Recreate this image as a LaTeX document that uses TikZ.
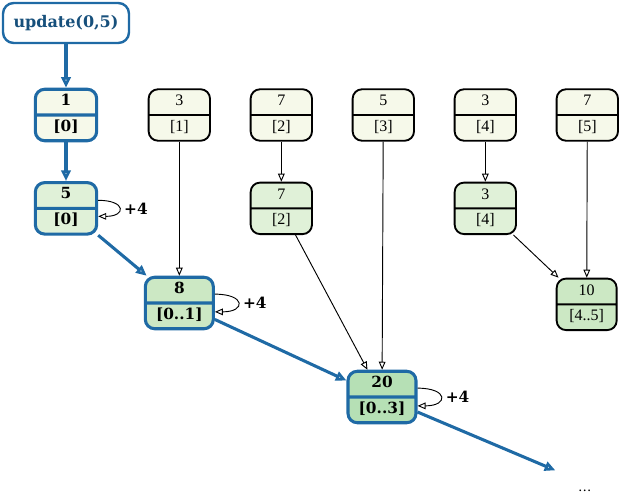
\documentclass[tikz,border=0pt]{standalone}
\usepackage{fontspec}
\setmainfont{DejaVu Serif}
\newfontfamily\plainfont{Liberation Serif}
\usetikzlibrary{shapes.multipart, positioning, arrows.meta}
\definecolor{segblue}{RGB}{31,106,165}
\definecolor{leafbg}{RGB}{246,249,234}
\definecolor{midbg}{RGB}{224,241,216}
\definecolor{sumbg}{RGB}{204,232,196}
\definecolor{rootbg}{RGB}{182,224,181}
\tikzset{
  seg/.style={rectangle split, rectangle split parts=2, rounded corners=7pt, draw,
    line width=1.4pt, minimum width=46pt, inner ysep=2.2pt,
    font=\plainfont\fontsize{12}{13.5}\selectfont},
  hot/.style={seg, draw=segblue, line width=2.3pt, inner ysep=2pt,
    font=\bfseries\fontsize{11.5}{13}\selectfont},
  updbox/.style={draw=segblue, line width=1.8pt, rounded corners=8pt, fill=white,
    text=segblue!75!black, minimum width=94.5pt, minimum height=30pt,
    font=\bfseries\fontsize{12}{14}\selectfont},
  coldedge/.style={->, >={Triangle[open,length=6pt,width=5pt]}, line width=.7pt},
  hotedge/.style={->, >={Triangle[open,length=8pt,width=7pt]}, draw=segblue, line width=2.3pt},
}
\newcommand{\parts}[2]{\strut#1\nodepart{two}\strut#2}

\begin{document}
\begin{tikzpicture}[x=1pt,y=1pt,on grid,node distance=70pt and 76.5pt]
	\useasboundingbox (-49.5,17.25) rectangle (416.25,-355.5);
	\node[updbox] (upd) at (0,0) {update(0,5)};
	\node[hot, fill=leafbg] (n1) [below=69pt of upd] {\parts{1}{[0]}};
	\node[hot, fill=midbg] (n5) [below=of n1] {\parts{5}{[0]}};
	\node[seg, fill=leafbg] (a1) [right=85pt of n1] {\parts{3}{[1]}};
	\node[seg, fill=leafbg] (a2) [right=of a1] {\parts{7}{[2]}};
	\node[seg, fill=leafbg] (a3) [right=of a2] {\parts{5}{[3]}};
	\node[seg, fill=leafbg] (a4) [right=of a3] {\parts{3}{[4]}};
	\node[seg, fill=leafbg] (a5) [right=of a4] {\parts{7}{[5]}};
	\node[seg, fill=midbg] (b2) [below=of a2] {\parts{7}{[2]}};
	\node[seg, fill=midbg] (b4) [below=of a4] {\parts{3}{[4]}};
	\node[hot, fill=sumbg, minimum width=51pt] (m8) [below right=71pt and 85pt of n5] {\parts{8}{[0..1]}};
	\node[seg, fill=sumbg, minimum width=45pt] (m10) [below right=72pt and 76pt of b4] {\parts{10}{[4..5]}};
	\node[hot, fill=rootbg, minimum width=51pt] (m20) [below right=70.5pt and 152pt of m8] {\parts{20}{[0..3]}};
	\coordinate[below right=55pt and 130pt of m20] (tail);
	\node (dots) [below right=70pt and 152pt of m20] {\dots};
	% update path
	\draw[hotedge] (upd) -- (n1);
	\draw[hotedge] (n1) -- (n5);
	\draw[hotedge] (n5) -- (m8);
	\draw[hotedge] (m8) -- (m20);
	\draw[hotedge] (m20) -- (tail);
	% merges
	\draw[coldedge] (a1) -- (m8);
	\draw[coldedge] (a2) -- (b2);
	\draw[coldedge] (b2) -- (m20);
	\draw[coldedge] (a3) -- (m20);
	\draw[coldedge] (a4) -- (b4);
	\draw[coldedge] (b4) -- (m10);
	\draw[coldedge] (a5) -- (m10);
	% self loops
	\foreach \n in {n5,m8,m20}
		\draw[coldedge] (\n.14) to[out=0,in=0,looseness=4.5] node[right,font=\bfseries\fontsize{11.5}{13}\selectfont] {+4} (\n.-14);
\end{tikzpicture}
\end{document}
